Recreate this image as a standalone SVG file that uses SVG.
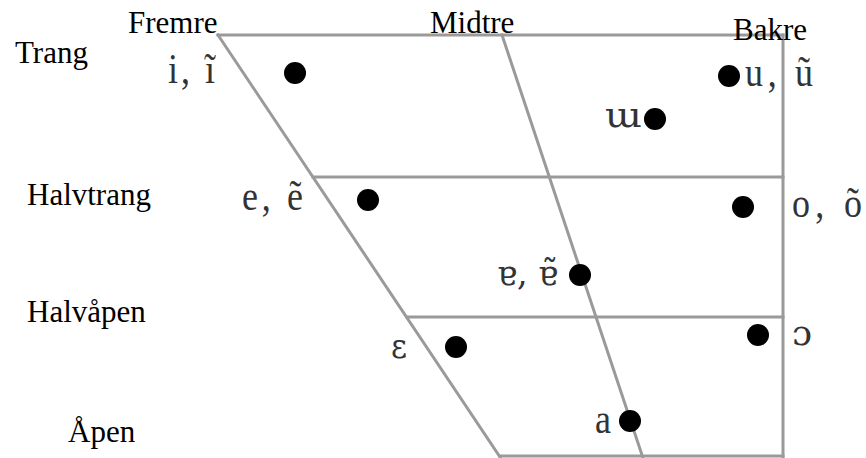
<svg xmlns="http://www.w3.org/2000/svg" width="866" height="458" viewBox="0 0 866 458">
<style>
.ln{stroke:#9a9a9a;stroke-width:3;fill:none;stroke-linecap:square}
.hd{font-family:"Liberation Serif","Times New Roman",serif;font-size:31px;fill:#000}
.vw{font-family:"Liberation Serif","DejaVu Serif",serif;font-size:36px;fill:#333}
.ipa{font-family:"DejaVu Serif",serif;font-size:30px;fill:#333}
.dot{fill:#000}
</style>
<rect width="866" height="458" fill="#fff"/>
<g id="connectors">
<line class="ln" x1="218" y1="35" x2="783" y2="35"/>
<line class="ln" x1="783" y1="35" x2="783" y2="458"/>
<line class="ln" x1="218" y1="35" x2="500" y2="457"/>
<line class="ln" x1="502" y1="35" x2="643" y2="458"/>
<line class="ln" x1="313" y1="177" x2="783" y2="177"/>
<line class="ln" x1="407" y1="317" x2="783" y2="317"/>
<line class="ln" x1="500" y1="456" x2="783" y2="456"/>
</g>
<g id="headers">
<text class="hd" x="15" y="63">Trang</text>
<text class="hd" x="128" y="33">Fremre</text>
<text class="hd" x="430" y="33">Midtre</text>
<text class="hd" x="733" y="40">Bakre</text>
<text class="hd" x="27" y="205">Halvtrang</text>
<text class="hd" x="27" y="322">Halvåpen</text>
<text class="hd" x="68" y="442">Åpen</text>
</g>
<g id="v-i"><circle class="dot" cx="295" cy="73" r="11"/><text class="vw" transform="translate(168,83) scale(1,1.2)" textLength="47" lengthAdjust="spacing">i, ĩ</text></g>
<g id="v-u"><circle class="dot" cx="729" cy="76" r="11"/><text class="vw" transform="translate(745,86) scale(1,1.2)" textLength="68" lengthAdjust="spacing">u, ũ</text></g>
<g id="v-ɯ"><circle class="dot" cx="655" cy="119" r="11"/><text class="ipa" transform="translate(605,127) scale(1,1.2)" textLength="37" lengthAdjust="spacingAndGlyphs">ɯ</text></g>
<g id="v-e"><circle class="dot" cx="368" cy="200" r="11"/><text class="vw" transform="translate(242,210) scale(1,1.2)" textLength="61" lengthAdjust="spacing">e, ẽ</text></g>
<g id="v-o"><circle class="dot" cx="743" cy="207" r="11"/><text class="vw" transform="translate(792,217) scale(1,1.2)" textLength="70" lengthAdjust="spacing">o, õ</text></g>
<g id="v-ɐ"><circle class="dot" cx="580" cy="275" r="11"/><text class="ipa" transform="translate(497,285) scale(1,1.2)" textLength="61" lengthAdjust="spacingAndGlyphs">ɐ, ɐ̃</text></g>
<g id="v-ɔ"><circle class="dot" cx="758" cy="335" r="11"/><text class="ipa" transform="translate(792,345) scale(1,1.2)" textLength="20" lengthAdjust="spacingAndGlyphs">ɔ</text></g>
<g id="v-ɛ"><circle class="dot" cx="456" cy="347" r="11"/><text class="ipa" transform="translate(391,358) scale(1,1.2)" textLength="16" lengthAdjust="spacingAndGlyphs">ɛ</text></g>
<g id="v-a"><circle class="dot" cx="630" cy="421" r="11"/><text class="vw" transform="translate(595,433) scale(1,1.2)">a</text></g>
</svg>
